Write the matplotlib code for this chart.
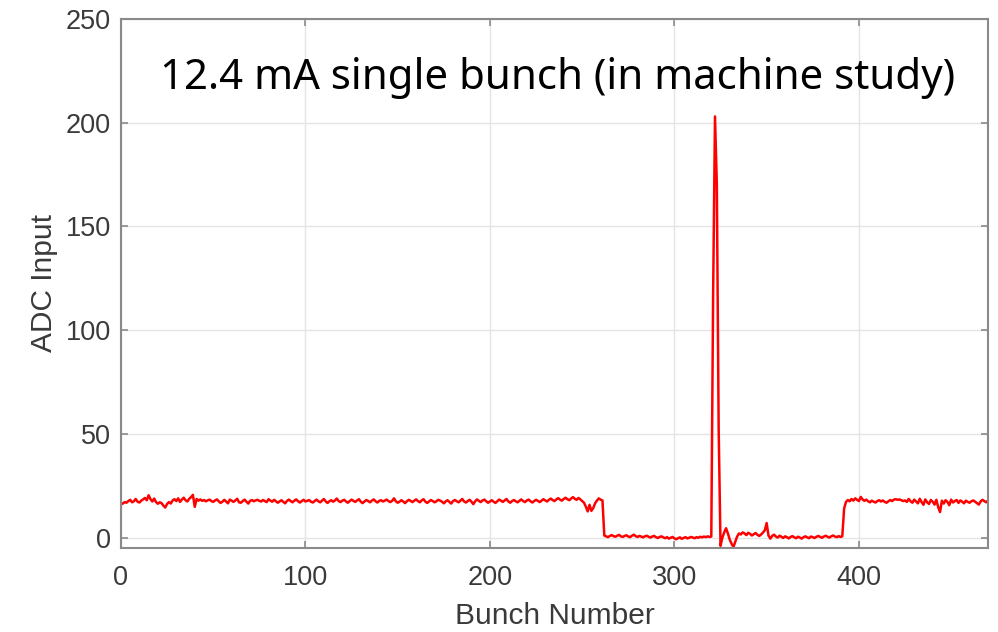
import numpy as np
import matplotlib
matplotlib.use("Agg")
import matplotlib.pyplot as plt

# ---- data ----
seg_fill1 = [
    16.4,17.1,16.8,17.6,18.2,17.0,17.5,18.6,17.3,16.9,17.8,18.4,19.1,18.0,20.4,18.5,17.4,18.8,17.1,16.3,
    17.0,16.6,15.4,14.5,16.2,17.1,16.4,17.9,18.5,17.6,18.9,17.2,18.3,19.2,18.0,17.4,18.7,19.5,20.6,14.8,
    18.6,17.8,18.4,17.7,18.1,17.5,17.9,18.3,17.6,17.2,17.9,18.4,17.5,16.7,17.3,18.2,17.4,16.5,18.3,17.8,
    17.2,17.9,18.7,17.0,16.8,17.6,18.3,17.3,16.4,17.7,18.1,17.5,17.9,18.2,17.7,17.4,18.1,17.6,17.1,18.5,
    17.8,17.3,18.2,17.5,16.8,17.4,18.0,17.2,16.5,17.7,18.3,17.6,17.0,17.8,18.4,17.5,16.9,17.6,18.2,17.4,
    17.7,18.1,17.3,16.9,17.6,18.3,17.5,17.0,17.8,18.6,17.4,16.7,17.5,18.0,17.3,17.9,18.8,17.6,17.1,17.8,
    18.2,17.4,16.8,17.6,18.3,17.7,17.2,17.9,18.5,17.3,16.6,17.4,18.1,17.6,17.0,17.8,18.4,17.5,16.9,17.7,
    18.0,17.4,17.8,18.3,17.6,17.1,17.7,18.9,17.5,16.8,17.3,18.0,17.4,16.6,17.5,18.2,17.7,17.1,17.8,18.4,
    17.6,17.0,17.9,18.5,17.3,16.7,17.4,18.1,17.6,17.0,17.5,18.2,17.8,17.3,16.5,17.4,18.0,17.2,16.4,17.6,
    18.1,17.5,17.0,17.8,18.6,17.4,16.9,17.6,18.2,17.3,16.1,17.5,18.4,17.7,17.1,17.9,18.3,17.5,16.8,17.4,
    18.0,17.3,16.7,17.5,18.3,17.8,17.2,17.9,18.6,17.4,16.8,17.6,18.1,17.5,17.0,17.7,18.4,17.6,17.1,17.9,
    18.3,17.5,16.9,17.6,18.2,17.7,17.1,17.8,18.5,17.9,17.4,18.2,18.8,18.1,17.6,18.4,19.0,18.3,17.8,18.6,
    19.2,18.5,18.0,18.8,19.5,18.7,18.2,19.1,18.4,17.6,16.8,14.9,12.6,15.8,12.9,14.2,16.5,17.8,18.9,18.3,
    17.9,
]
seg_gap = [
    1.0,0.6,0.2,0.8,1.2,0.7,0.4,0.9,1.3,0.6,
    0.3,0.8,1.1,0.5,0.2,0.9,1.4,0.7,0.3,0.8,
    0.5,0.1,0.6,0.9,0.4,0.0,0.5,0.8,0.2,-0.2,
    0.3,0.6,0.1,-0.3,0.2,-0.5,-0.1,0.3,-0.4,-0.8,
    -0.3,0.1,-0.6,-0.2,0.2,-0.4,-0.1,0.3,0.0,-0.3,
    0.2,-0.1,0.4,0.1,0.5,0.2,0.6,0.3,0.5,118.0,
    203.0,170.0,52.0,-4.0,0.0,2.5,4.5,2.0,-1.0,-3.0,
    -4.5,-2.0,0.5,2.0,1.5,2.5,2.0,1.2,2.3,1.8,
    1.0,1.6,2.2,1.3,0.8,1.5,2.4,3.5,7.0,1.0,
    -0.5,0.8,1.4,0.5,0.0,0.9,0.4,-0.2,0.6,0.2,
    -0.4,0.3,0.7,0.1,-0.3,0.4,0.0,-0.5,0.2,0.6,
    0.1,-0.3,0.5,0.2,-0.2,0.4,0.8,0.3,-0.1,0.5,
    0.9,0.4,0.0,0.6,1.0,0.5,0.2,0.7,0.3,0.6,
]
seg_fill2 = [
    14.0,17.2,18.1,17.5,18.6,17.8,18.9,18.2,17.6,19.6,
    18.4,17.7,18.3,17.5,17.0,17.8,17.3,16.9,17.6,18.0,
    17.4,17.9,17.2,16.8,17.5,18.1,17.6,18.3,18.5,18.2,
    18.4,18.0,17.6,17.9,17.2,18.6,17.5,16.8,18.3,17.4,
    16.5,18.7,17.1,15.8,18.4,17.0,16.2,18.1,17.3,15.9,
    18.2,14.6,12.3,17.8,16.4,18.0,17.2,15.6,18.3,16.9,
    17.6,18.1,16.7,17.9,17.3,16.5,17.8,17.2,16.8,17.5,
    17.9,17.3,16.6,15.9,17.4,18.2,17.6,17.0,17.8,
]
adc = np.array(seg_fill1 + seg_gap + seg_fill2)
bunch = np.arange(1, len(adc) + 1)

xticks = [0, 100, 200, 300, 400]
yticks = [0, 50, 100, 150, 200, 250]
title_text = "12.4 mA single bunch (in machine study)"

# ---- figure ----
fig = plt.figure(figsize=(9.98, 6.32), dpi=100)
ax = fig.add_axes([0.1212, 0.133, 0.8688, 0.837])

ax.plot(bunch, adc, color="#ff0000", linewidth=1.8)

ax.set_xlim(0, 470)
ax.set_ylim(-5, 250)
ax.set_xticks(xticks)
ax.set_yticks(yticks)
ax.grid(True, color="#e4e4e4", linewidth=1.0)
ax.set_axisbelow(True)

for s in ax.spines.values():
    s.set_color("#8a8a8a")
    s.set_linewidth(1.5)

ax.tick_params(direction="in", top=True, right=True, length=5, width=1.2,
               color="#8a8a8a", labelsize=19.5, labelcolor="#3a3a3a")
ax.tick_params(axis="x", pad=12)
ax.tick_params(axis="y", pad=7)
for lab in ax.get_xticklabels() + ax.get_yticklabels():
    lab.set_family(["Liberation Sans", "DejaVu Sans"])

ax.set_xlabel("Bunch Number", fontsize=21.5, color="#3a3a3a",
              family=["Liberation Sans", "DejaVu Sans"], labelpad=8)
ax.set_ylabel("ADC Input", fontsize=21.5, color="#3a3a3a",
              family=["Liberation Sans", "DejaVu Sans"], labelpad=6)

ax.text(0.045, 0.888, title_text, transform=ax.transAxes, fontsize=30.2,
        color="black", family=["Noto Sans", "DejaVu Sans"], va="center", ha="left")

fig.savefig("out.png", dpi=100)
